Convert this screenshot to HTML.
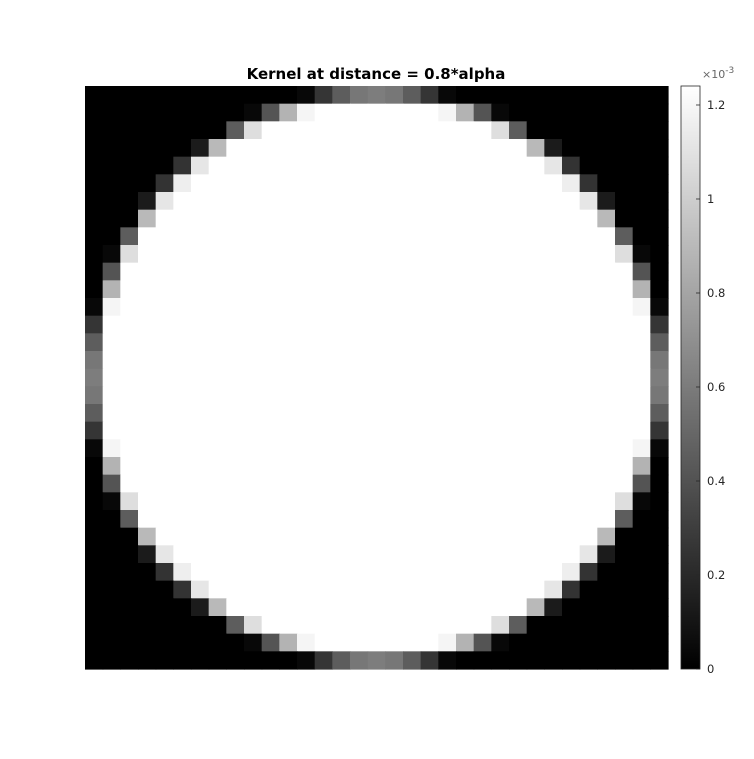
<!DOCTYPE html>
<html><head><meta charset="utf-8"><style>
html,body{margin:0;padding:0;background:#fff}
svg text{font-family:"DejaVu Sans","Liberation Sans",sans-serif}
</style></head><body>
<svg id="chart" width="754" height="754" viewBox="0 0 754 754" xmlns="http://www.w3.org/2000/svg">
<rect width="754" height="754" fill="#fff"/>
<text x="376" y="79" text-anchor="middle" font-size="15" font-weight="bold" fill="#000">Kernel at distance = 0.8*alpha</text>
<g id="cells"></g>
<defs><linearGradient id="cbgrad" x1="0" y1="1" x2="0" y2="0"><stop offset="0" stop-color="#000"/><stop offset="1" stop-color="#fff"/></linearGradient></defs>
<rect x="681" y="86" width="19" height="583" fill="url(#cbgrad)" stroke="#262626" stroke-width="0.8"/>
<g id="cbticks"></g>
<text x="702" y="78" font-size="11" fill="#666">×10<tspan dy="-5" font-size="9">-3</tspan></text>
</svg>
<script>
// Top-left quadrant of the kernel (17x17), values in units of 1e-3; rest by symmetry
const vMax = 1.2404;
const quadrantRows = [
 [0,0,0,0,0,0,0,0,0,0,0,0,0.04,0.26,0.45,0.58,0.61],
 [0,0,0,0,0,0,0,0,0,0.04,0.41,0.87,1.19,1.24,1.24,1.24,1.24],
 [0,0,0,0,0,0,0,0,0.45,1.08,1.24,1.24,1.24,1.24,1.24,1.24,1.24],
 [0,0,0,0,0,0,0.13,0.90,1.24,1.24,1.24,1.24,1.24,1.24,1.24,1.24,1.24],
 [0,0,0,0,0,0.25,1.12,1.24,1.24,1.24,1.24,1.24,1.24,1.24,1.24,1.24,1.24],
 [0,0,0,0,0.25,1.16,1.24,1.24,1.24,1.24,1.24,1.24,1.24,1.24,1.24,1.24,1.24],
 [0,0,0,0.13,1.12,1.24,1.24,1.24,1.24,1.24,1.24,1.24,1.24,1.24,1.24,1.24,1.24],
 [0,0,0,0.90,1.24,1.24,1.24,1.24,1.24,1.24,1.24,1.24,1.24,1.24,1.24,1.24,1.24],
 [0,0,0.45,1.24,1.24,1.24,1.24,1.24,1.24,1.24,1.24,1.24,1.24,1.24,1.24,1.24,1.24],
 [0,0.04,1.08,1.24,1.24,1.24,1.24,1.24,1.24,1.24,1.24,1.24,1.24,1.24,1.24,1.24,1.24],
 [0,0.41,1.24,1.24,1.24,1.24,1.24,1.24,1.24,1.24,1.24,1.24,1.24,1.24,1.24,1.24,1.24],
 [0,0.87,1.24,1.24,1.24,1.24,1.24,1.24,1.24,1.24,1.24,1.24,1.24,1.24,1.24,1.24,1.24],
 [0.04,1.19,1.24,1.24,1.24,1.24,1.24,1.24,1.24,1.24,1.24,1.24,1.24,1.24,1.24,1.24,1.24],
 [0.26,1.24,1.24,1.24,1.24,1.24,1.24,1.24,1.24,1.24,1.24,1.24,1.24,1.24,1.24,1.24,1.24],
 [0.45,1.24,1.24,1.24,1.24,1.24,1.24,1.24,1.24,1.24,1.24,1.24,1.24,1.24,1.24,1.24,1.24],
 [0.58,1.24,1.24,1.24,1.24,1.24,1.24,1.24,1.24,1.24,1.24,1.24,1.24,1.24,1.24,1.24,1.24],
 [0.61,1.24,1.24,1.24,1.24,1.24,1.24,1.24,1.24,1.24,1.24,1.24,1.24,1.24,1.24,1.24,1.24]
];
const cbTickValues = [0, 0.2, 0.4, 0.6, 0.8, 1, 1.2];
const cbTickLabels = ["0", "0.2", "0.4", "0.6", "0.8", "1", "1.2"];

const N = 2 * (quadrantRows.length - 1) + 1;
const plotX = 85, plotY = 86, plotW = 583, plotH = 583;
const cw = plotW / N, ch = plotH / N;
function xScale(c){ return plotX + c * cw; }
function yScale(r){ return plotY + r * ch; }
function cbScale(v){ return 669 - v / vMax * 583; }
function gray(v){ const g = Math.round(Math.max(0, Math.min(1, v / vMax)) * 255); return `rgb(${g},${g},${g})`; }
const NS = "http://www.w3.org/2000/svg";
const cells = document.getElementById("cells");
const h = quadrantRows.length - 1;
for (let r = 0; r < N; r++) {
  for (let c = 0; c < N; c++) {
    const qr = r <= h ? r : N - 1 - r;
    const qc = c <= h ? c : N - 1 - c;
    const v = quadrantRows[qr][qc];
    const rect = document.createElementNS(NS, "rect");
    
    
    rect.setAttribute("x", xScale(c));
    rect.setAttribute("y", yScale(r));
    rect.setAttribute("width", cw + 0.6);
    rect.setAttribute("height", ch + 0.6);
    rect.setAttribute("fill", gray(v));
    cells.appendChild(rect);
  }
}
const cbt = document.getElementById("cbticks");
cbTickValues.forEach((v, i) => {
  const y = cbScale(v);
  const l1 = document.createElementNS(NS, "line");
  
  
  l1.setAttribute("x1", 696); l1.setAttribute("x2", 700);
  l1.setAttribute("y1", y); l1.setAttribute("y2", y);
  l1.setAttribute("stroke", "#262626"); l1.setAttribute("stroke-width", "0.8");
  cbt.appendChild(l1);
  const t = document.createElementNS(NS, "text");
  
  
  t.setAttribute("x", 707); t.setAttribute("y", y + 4);
  t.setAttribute("font-size", "11.5"); t.setAttribute("fill", "#262626");
  t.textContent = cbTickLabels[i];
  cbt.appendChild(t);
});
</script>
</body></html>
